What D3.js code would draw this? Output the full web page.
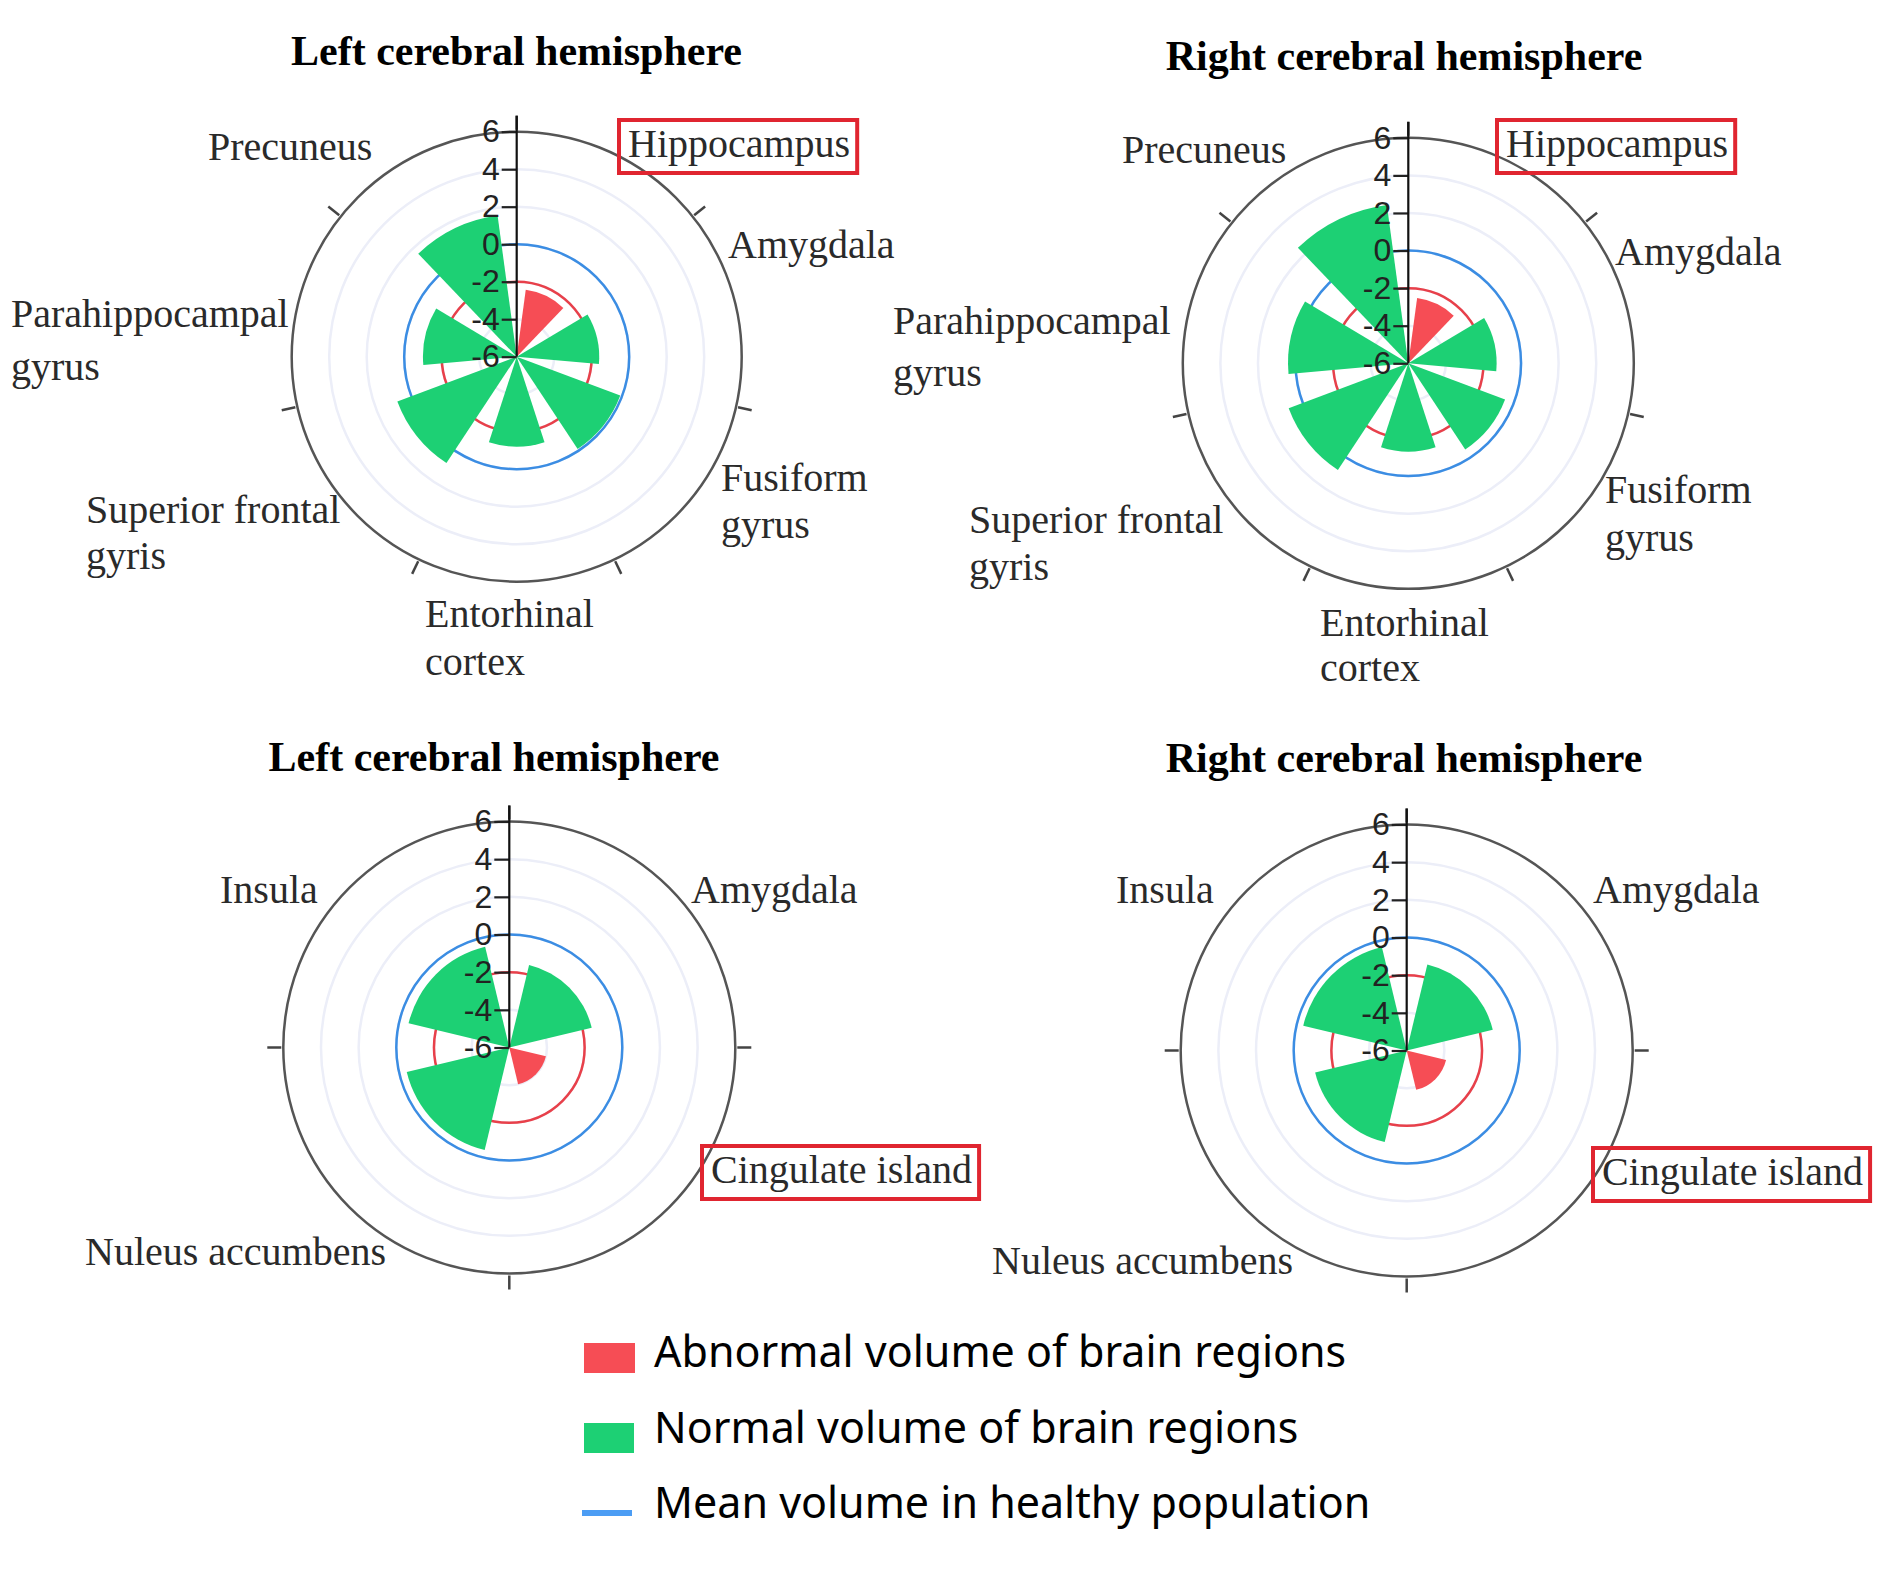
<!DOCTYPE html>
<html><head><meta charset="utf-8">
<script src="https://cdn.jsdelivr.net/npm/d3@7"></script>
<style>body{margin:0;background:#fff}</style>
</head><body>
<svg id="c" width="1878" height="1583"></svg>
<script>
// ---------------- DATA ----------------
const radialTicks = [-6, -4, -2, 0, 2, 4, 6];
const radialTickLabels = ["-6", "-4", "-2", "0", "2", "4", "6"];
const radialDomain = [-6, 6];
const healthyMean = 0;
const abnormalThreshold = -2;

const titles = ["Left cerebral hemisphere", "Right cerebral hemisphere",
                "Left cerebral hemisphere", "Right cerebral hemisphere"];

const cortexRegions = ["Hippocampus", "Amygdala", "Fusiform gyrus", "Entorhinal cortex",
                       "Superior frontal gyris", "Parahippocampal gyrus", "Precuneus"];
const leftCortexValues  = [-2.4, -1.6, -0.1, -1.2, 0.8, -1.0, 1.6];
const rightCortexValues = [-2.5, -1.3, -0.5, -1.3, 0.8, 0.4, 2.5];
const cortexAbnormal    = [true, false, false, false, false, false, false];

const subRegions = ["Amygdala", "Cingulate island", "Nuleus accumbens", "Insula"];
const leftSubValues  = [-1.5, -4.0, -0.4, -0.5];
const rightSubValues = [-1.3, -3.85, -1.0, -0.35];
const subAbnormal    = [false, true, false, false];

const legendLabels = ["Abnormal volume of brain regions", "Normal volume of brain regions",
                      "Mean volume in healthy population"];

// ---------------- LAYOUT / STYLE ----------------
const C = {
  green: "#1dd074", red: "#f64d55", blue: "#3b8de3", redLine: "#e8404a",
  legendBlue: "#4c9df4", outer: "#555", grid: "#eceef8", box: "#e02530", text: "#2a2a2a"
};
const panelLayout = [
  { cx: 516.7, cy: 356.7, R: 225, tx: 516.5, ty: 65,
    labels: [[628,157,0],[728,258,0],[721,491,47],[425,627,48],[86,523,46],[11,327,53],[208,160,0]] },
  { cx: 1408.3, cy: 363.3, R: 225.5, tx: 1404, ty: 70,
    labels: [[1506,157,0],[1615,265,0],[1605,503,48],[1320,636,45],[969,533,47],[893,334,52],[1122,163,0]] },
  { cx: 509.3, cy: 1047.5, R: 226, tx: 494, ty: 771,
    labels: [[691,903,0],[711,1183,0],[85,1265,0],[220,903,0]] },
  { cx: 1406.7, cy: 1050.5, R: 226, tx: 1404, ty: 772,
    labels: [[1593,903,0],[1602,1185,0],[992,1274,0],[1116,903,0]] }
];

const panels = [
  { title: titles[0], regions: cortexRegions, values: leftCortexValues, abnormal: cortexAbnormal },
  { title: titles[1], regions: cortexRegions, values: rightCortexValues, abnormal: cortexAbnormal },
  { title: titles[2], regions: subRegions, values: leftSubValues, abnormal: subAbnormal },
  { title: titles[3], regions: subRegions, values: rightSubValues, abnormal: subAbnormal }
];

const svg = d3.select("#c");
svg.append("rect").attr("width", 1878).attr("height", 1583).attr("fill", "#fff");

function drawPanel(p, L) {
  const root = svg.append("g");
  root.append("text").attr("x", L.tx).attr("y", L.ty).attr("text-anchor", "middle")
    .attr("font-family", "Liberation Serif, serif").attr("font-weight", "bold")
    .attr("font-size", 42).attr("fill", "#000").text(p.title);

  const g = root.append("g").attr("transform", `translate(${L.cx},${L.cy})`);
  const x = d3.scaleBand().domain(p.regions).range([0, 2 * Math.PI])
    .paddingInner(0.3).paddingOuter(0.15);
  const r = d3.scaleLinear().domain(radialDomain).range([0, L.R]);

  // grid circles
  g.selectAll("circle.grid").data(radialTicks.filter(t => t > radialDomain[0] && t < radialDomain[1]))
    .join("circle").attr("class", "grid").attr("r", d => r(d))
    .attr("fill", "none").attr("stroke", C.grid).attr("stroke-width", 2.5);
  // reference circles
  g.append("circle").attr("r", r(abnormalThreshold)).attr("fill", "none")
    .attr("stroke", C.redLine).attr("stroke-width", 2.5);
  g.append("circle").attr("r", r(healthyMean)).attr("fill", "none")
    .attr("stroke", C.blue).attr("stroke-width", 2.5);

  // bars
  const data = p.regions.map((reg, i) => ({ region: reg, value: p.values[i], abnormal: p.abnormal[i] }));
  const arc = d3.arc().innerRadius(0).outerRadius(d => r(d.value))
    .startAngle(d => x(d.region)).endAngle(d => x(d.region) + x.bandwidth());
  g.selectAll("path.bar").data(data).join("path").attr("class", "bar")
    .attr("d", arc).attr("fill", d => d.abnormal ? C.red : C.green);

  // outer circle
  g.append("circle").attr("r", r(radialDomain[1])).attr("fill", "none")
    .attr("stroke", C.outer).attr("stroke-width", 2.5);
  // angular ticks at sector boundaries
  const off = (x.step() - x.bandwidth()) / 2;
  g.selectAll("line.atick").data(p.regions).join("line").attr("class", "atick")
    .each(function (d) {
      const a = x(d) - off;
      const r0 = L.R + 2, r1 = L.R + 16;
      d3.select(this).attr("x1", r0 * Math.sin(a)).attr("y1", -r0 * Math.cos(a))
        .attr("x2", r1 * Math.sin(a)).attr("y2", -r1 * Math.cos(a));
    })
    .attr("stroke", "#444").attr("stroke-width", 2.5);

  // radial axis
  const ys = d3.scaleLinear().domain(radialDomain).range([0, -L.R]);
  const ax = g.append("g").call(d3.axisLeft(ys).tickValues(radialTicks)
    .tickFormat((d, i) => radialTickLabels[i]).tickSize(15).tickPadding(2).tickSizeOuter(0));
  ax.select(".domain").remove();
  ax.selectAll(".tick line").attr("stroke", "#222").attr("stroke-width", 2.2);
  ax.selectAll(".tick text").attr("font-family", "Liberation Sans, Arial, sans-serif")
    .attr("font-size", 32).attr("fill", "#222");
  g.append("line").attr("x1", 0).attr("y1", 0).attr("x2", 0).attr("y2", -(L.R + 16))
    .attr("stroke", "#111").attr("stroke-width", 2.2);

  // category labels
  data.forEach((d, i) => {
    const [lx, ly, lh] = L.labels[i];
    const t = root.append("text").attr("x", lx).attr("y", ly)
      .attr("font-family", "Liberation Serif, serif").attr("font-size", 40).attr("fill", C.text);
    if (lh > 0) {
      const k = d.region.lastIndexOf(" ");
      t.append("tspan").attr("x", lx).attr("y", ly).text(d.region.slice(0, k));
      t.append("tspan").attr("x", lx).attr("y", ly + lh).text(d.region.slice(k + 1));
    } else {
      t.text(d.region);
    }
    if (d.abnormal) {
      const b = t.node().getBBox();
      root.append("rect").attr("x", b.x - 9).attr("y", b.y - 1)
        .attr("width", b.width + 16).attr("height", b.height + 8)
        .attr("fill", "none").attr("stroke", C.box).attr("stroke-width", 4);
    }
  });
}

panels.forEach((p, i) => drawPanel(p, panelLayout[i]));

// legend
const lg = svg.append("g");
const legendRows = [1367, 1443, 1518];
lg.append("rect").attr("x", 584).attr("y", 1343).attr("width", 51).attr("height", 30).attr("fill", C.red);
lg.append("rect").attr("x", 584).attr("y", 1423).attr("width", 50).attr("height", 30).attr("fill", C.green);
lg.append("line").attr("x1", 582).attr("x2", 632).attr("y1", 1513).attr("y2", 1513)
  .attr("stroke", C.legendBlue).attr("stroke-width", 6);
lg.selectAll("text").data(legendLabels).join("text")
  .attr("x", 654).attr("y", (d, i) => legendRows[i])
  .attr("font-family", "Noto Sans, sans-serif").attr("font-size", 43).attr("fill", "#000")
  .text(d => d);
</script>
</body></html>
